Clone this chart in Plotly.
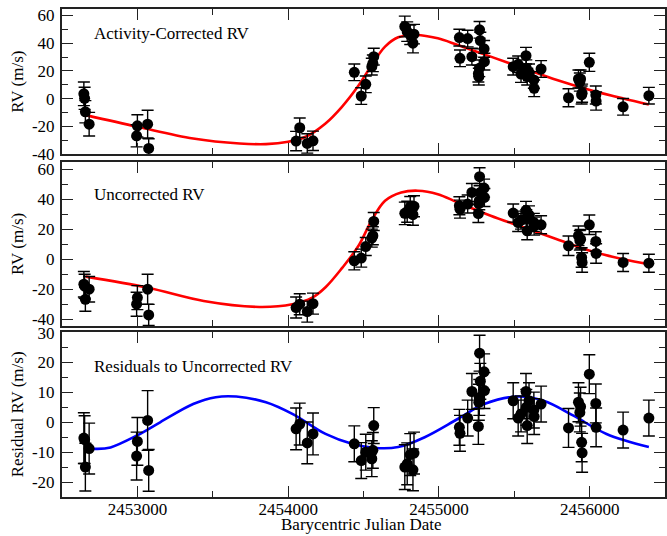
import plotly.graph_objects as go

# ---- observation epochs (BJD) ----
bjd = [2452645, 2452650, 2452655, 2452680,
       2452995, 2453000, 2453068, 2453075,
       2454053, 2454077, 2454127, 2454165,
       2454439, 2454485, 2454515, 2454555, 2454562, 2454568,
       2454774, 2454790, 2454810, 2454835, 2454828,
       2455136, 2455140, 2455191, 2455219, 2455270, 2455300, 2455275, 2455302, 2455268, 2455265, 2455262,
       2455493, 2455526, 2455545, 2455578, 2455580, 2455598, 2455586, 2455630, 2455632, 2455678,
       2455860, 2455926, 2455940, 2455935, 2455947, 2455950, 2455998, 2456041, 2456043,
       2456222, 2456393]

rv_corrected = [3.5, 0.3, -9.4, -18.3,
                -26.7, -19.5, -18.3, -35.8,
                -30.5, -20.9, -32.2, -30.3,
                19.0, 1.9, 10.4, 23.1, 25.5, 30.3,
                52.0, 48.3, 46.0, 46.5, 40.0,
                44.0, 29.1, 43.3, 30.3, 49.6, 35.9, 41.9, 26.7, 21.9, 15.9, 18.0,
                23.1, 24.8, 17.8, 31.0, 22.0, 19.0, 15.9, 13.5, 7.5, 21.4,
                0.7, 14.2, 14.2, 12.0, 2.7, 4.0, 26.2, 2.7, -1.7,
                -5.8, 2.2]

rv_uncorrected = [-16.7, -18.0, -26.7, -20.0,
                  -30.0, -25.6, -20.0, -37.1,
                  -32.2, -30.0, -34.9, -29.6,
                  -1.1, 0.7, 8.4, 14.0, 15.6, 25.1,
                  30.5, 31.6, 34.7, 35.2, 29.6,
                  35.6, 33.3, 36.7, 44.4, 54.9, 47.3, 44.4, 41.1, 38.9, 37.0, 30.4,
                  30.7, 24.4, 26.0, 32.5, 27.0, 29.5, 18.9, 24.5, 22.0, 22.9,
                  8.9, 15.6, 13.3, 12.5, 1.1, -2.2, 22.9, 11.8, 3.8,
                  -2.2, -2.7]

rv_residual = [-5.3, -5.8, -15.0, -8.8,
               -11.3, -6.4, 0.6, -16.1,
               -2.2, -0.6, -6.9, -3.9,
               -7.2, -12.8, -10.0, -12.2, -9.4, -1.1,
               -15.0, -13.9, -10.8, -10.3, -15.9,
               -1.7, -3.7, 1.4, 10.3, 23.1, 16.9, 13.7, 10.6, 8.3, 6.7, -1.4,
               7.2, 1.4, 2.8, 10.3, 5.0, 7.2, -1.1, 4.1, 1.9, 6.1,
               -1.9, 6.7, 5.2, 3.3, -6.7, -10.2, 16.1, 6.3, -1.7,
               -2.6, 1.4]

rv_err = [8.5, 8, 8, 8.5,
          8, 8, 10, 7,
          7, 7, 7, 7,
          6, 6, 6, 6, 6, 6,
          7.5, 7, 7, 7, 7,
          6, 6, 6, 6, 6, 6, 6, 6, 6, 6, 6,
          6, 6, 6, 6, 6, 6, 6, 6, 6, 6,
          6.5, 6.5, 6.5, 6.5, 6.5, 6.5, 6.5, 6.5, 6.5,
          6, 6]

# ---- model curves ----
fit1_bjd = [2452658, 2453002, 2453370, 2453678, 2453853, 2454000, 2454116, 2454248, 2454357,
            2454467, 2454555, 2454643, 2454730, 2454851, 2454993, 2455125, 2455344, 2455564,
            2455783, 2456002, 2456222, 2456393]
fit1_rv = [-11.8, -20.2, -28.6, -32.2, -32.7, -31.0, -27.4, -17.8, -5.8,
           9.5, 24.3, 37.5, 44.2, 45.9, 43.5, 38.7, 30.3, 21.9,
           13.5, 6.3, 0.2, -4.1]

fit2_bjd = [2452658, 2453070, 2453440, 2453809, 2454028, 2454160, 2454250, 2454357,
            2454467, 2454555, 2454643, 2454750, 2454860, 2454993, 2455125, 2455344, 2455564,
            2455783, 2456002, 2456222, 2456393]
fit2_rv = [-11.6, -19.0, -27.8, -31.8, -30.0, -25.6, -18.5, -6.0,
           8.9, 26.0, 38.9, 44.4, 45.6, 43.3, 37.8, 28.9, 21.1,
           13.3, 5.6, 0.0, -3.3]

fit3_bjd = [2452647, 2452735, 2452822, 2452998, 2453151, 2453370, 2453520, 2453656, 2453853,
            2454028, 2454248, 2454423, 2454577, 2454730, 2454906, 2455125, 2455301, 2455520,
            2455695, 2455893, 2456112, 2456393]
fit3_rv = [-8.5, -8.9, -8.4, -4.4, 0.0, 6.1, 8.4, 8.6, 6.7,
           2.8, -3.9, -7.2, -8.6, -8.3, -5.0, 1.1, 6.1, 8.6,
           7.2, 2.2, -3.9, -8.3]

# ---- axis ticks / labels ----
x_tickvals = [2453000, 2454000, 2455000, 2456000]
x_ticktext = ["2453000", "2454000", "2455000", "2456000"]
rv_tickvals = [-40, -20, 0, 20, 40, 60]
rv_ticktext = ["-40", "-20", "0", "20", "40", "60"]
res_tickvals = [-20, -10, 0, 10, 20, 30]
res_ticktext = ["-20", "-10", "0", "10", "20", "30"]

panel_labels = ["Activity-Corrected RV", "Uncorrected RV", "Residuals to Uncorrected RV"]
x_title = "Barycentric Julian Date"

FONT = "Liberation Serif"
fig = go.Figure()

def add_panel(xa, ya, yvals, fx, fy, fcolor):
    fig.add_trace(go.Scatter(x=fx, y=fy, mode="lines", line=dict(color=fcolor, width=2.6, shape="spline", smoothing=1.0),
                             xaxis=xa, yaxis=ya, hoverinfo="skip"))
    fig.add_trace(go.Scatter(x=bjd, y=yvals, mode="markers",
                             marker=dict(color="black", size=11),
                             error_y=dict(type="data", array=rv_err, color="black", thickness=1.4, width=6),
                             xaxis=xa, yaxis=ya))

add_panel("x", "y", rv_corrected, fit1_bjd, fit1_rv, "#ff0000")
add_panel("x2", "y2", rv_uncorrected, fit2_bjd, fit2_rv, "#ff0000")
add_panel("x3", "y3", rv_residual, fit3_bjd, fit3_rv, "#0000ff")

xcommon = dict(range=[2452500, 2456500], showline=True, linecolor="#222", linewidth=2, mirror="allticks",
               ticks="inside", ticklen=11, tickwidth=1.2, tickcolor="#222",
               tickvals=x_tickvals, ticktext=x_ticktext, showgrid=False, zeroline=False,
               minor=dict(dtick=500, tick0=2452500, ticks="inside", ticklen=6, tickwidth=1.2, tickcolor="#222", showgrid=False),
               tickfont=dict(family=FONT, size=17, color="black"))
ycommon = dict(showline=True, linecolor="#222", linewidth=2, mirror="allticks",
               ticks="inside", ticklen=11, tickwidth=1.2, tickcolor="#222", showgrid=False, zeroline=False,
               tickfont=dict(family=FONT, size=17, color="black"), ticklabelstandoff=2,
               title=dict(font=dict(family=FONT, size=17, color="black"), standoff=4))

d3 = [0.0, 0.3387]
d2 = [0.3504, 0.6871]
d1 = [0.7023, 1.0]

fig.update_layout(
    width=667, height=536,
    margin=dict(l=62, r=0, t=9, b=39),
    paper_bgcolor="white", plot_bgcolor="white",
    showlegend=False,
    font=dict(family=FONT, size=17, color="black"),
    xaxis=dict(xcommon, anchor="y", showticklabels=False),
    xaxis2=dict(xcommon, anchor="y2", matches="x", showticklabels=False),
    xaxis3=dict(xcommon, anchor="y3", matches="x", ticklabelstandoff=-4),
    yaxis=dict(ycommon, domain=d1, anchor="x", range=[-40, 64.6], tickvals=rv_tickvals, ticktext=rv_ticktext,
               minor=dict(dtick=10, tick0=0, ticks="inside", ticklen=6, tickwidth=1.2, tickcolor="#222", showgrid=False),
               title_text="RV (m/s)"),
    yaxis2=dict(ycommon, domain=d2, anchor="x2", range=[-44.5, 64.9], tickvals=rv_tickvals, ticktext=rv_ticktext,
                minor=dict(dtick=10, tick0=0, ticks="inside", ticklen=6, tickwidth=1.2, tickcolor="#222", showgrid=False),
                title_text="RV (m/s)"),
    yaxis3=dict(ycommon, domain=d3, anchor="x3", range=[-25, 30.3], tickvals=res_tickvals, ticktext=res_ticktext,
                minor=dict(dtick=5, tick0=0, ticks="inside", ticklen=6, tickwidth=1.2, tickcolor="#222", showgrid=False),
                title_text="Residual RV (m/s)"),
)

fig.add_annotation(text=x_title, xref="x3 domain", yref="paper", x=0.497, y=-0.056,
                   xanchor="center", yanchor="middle", showarrow=False,
                   font=dict(family=FONT, size=17, color="black"))

fig.add_annotation(text=panel_labels[0], xref="x domain", yref="y domain", x=0.05, y=0.83,
                   xanchor="left", yanchor="middle", showarrow=False, font=dict(family=FONT, size=17, color="black"))
fig.add_annotation(text=panel_labels[1], xref="x2 domain", yref="y2 domain", x=0.05, y=0.80,
                   xanchor="left", yanchor="middle", showarrow=False, font=dict(family=FONT, size=17, color="black"))
fig.add_annotation(text=panel_labels[2], xref="x3 domain", yref="y3 domain", x=0.05, y=0.79,
                   xanchor="left", yanchor="middle", showarrow=False, font=dict(family=FONT, size=17, color="black"))

fig.write_html("out.html")
